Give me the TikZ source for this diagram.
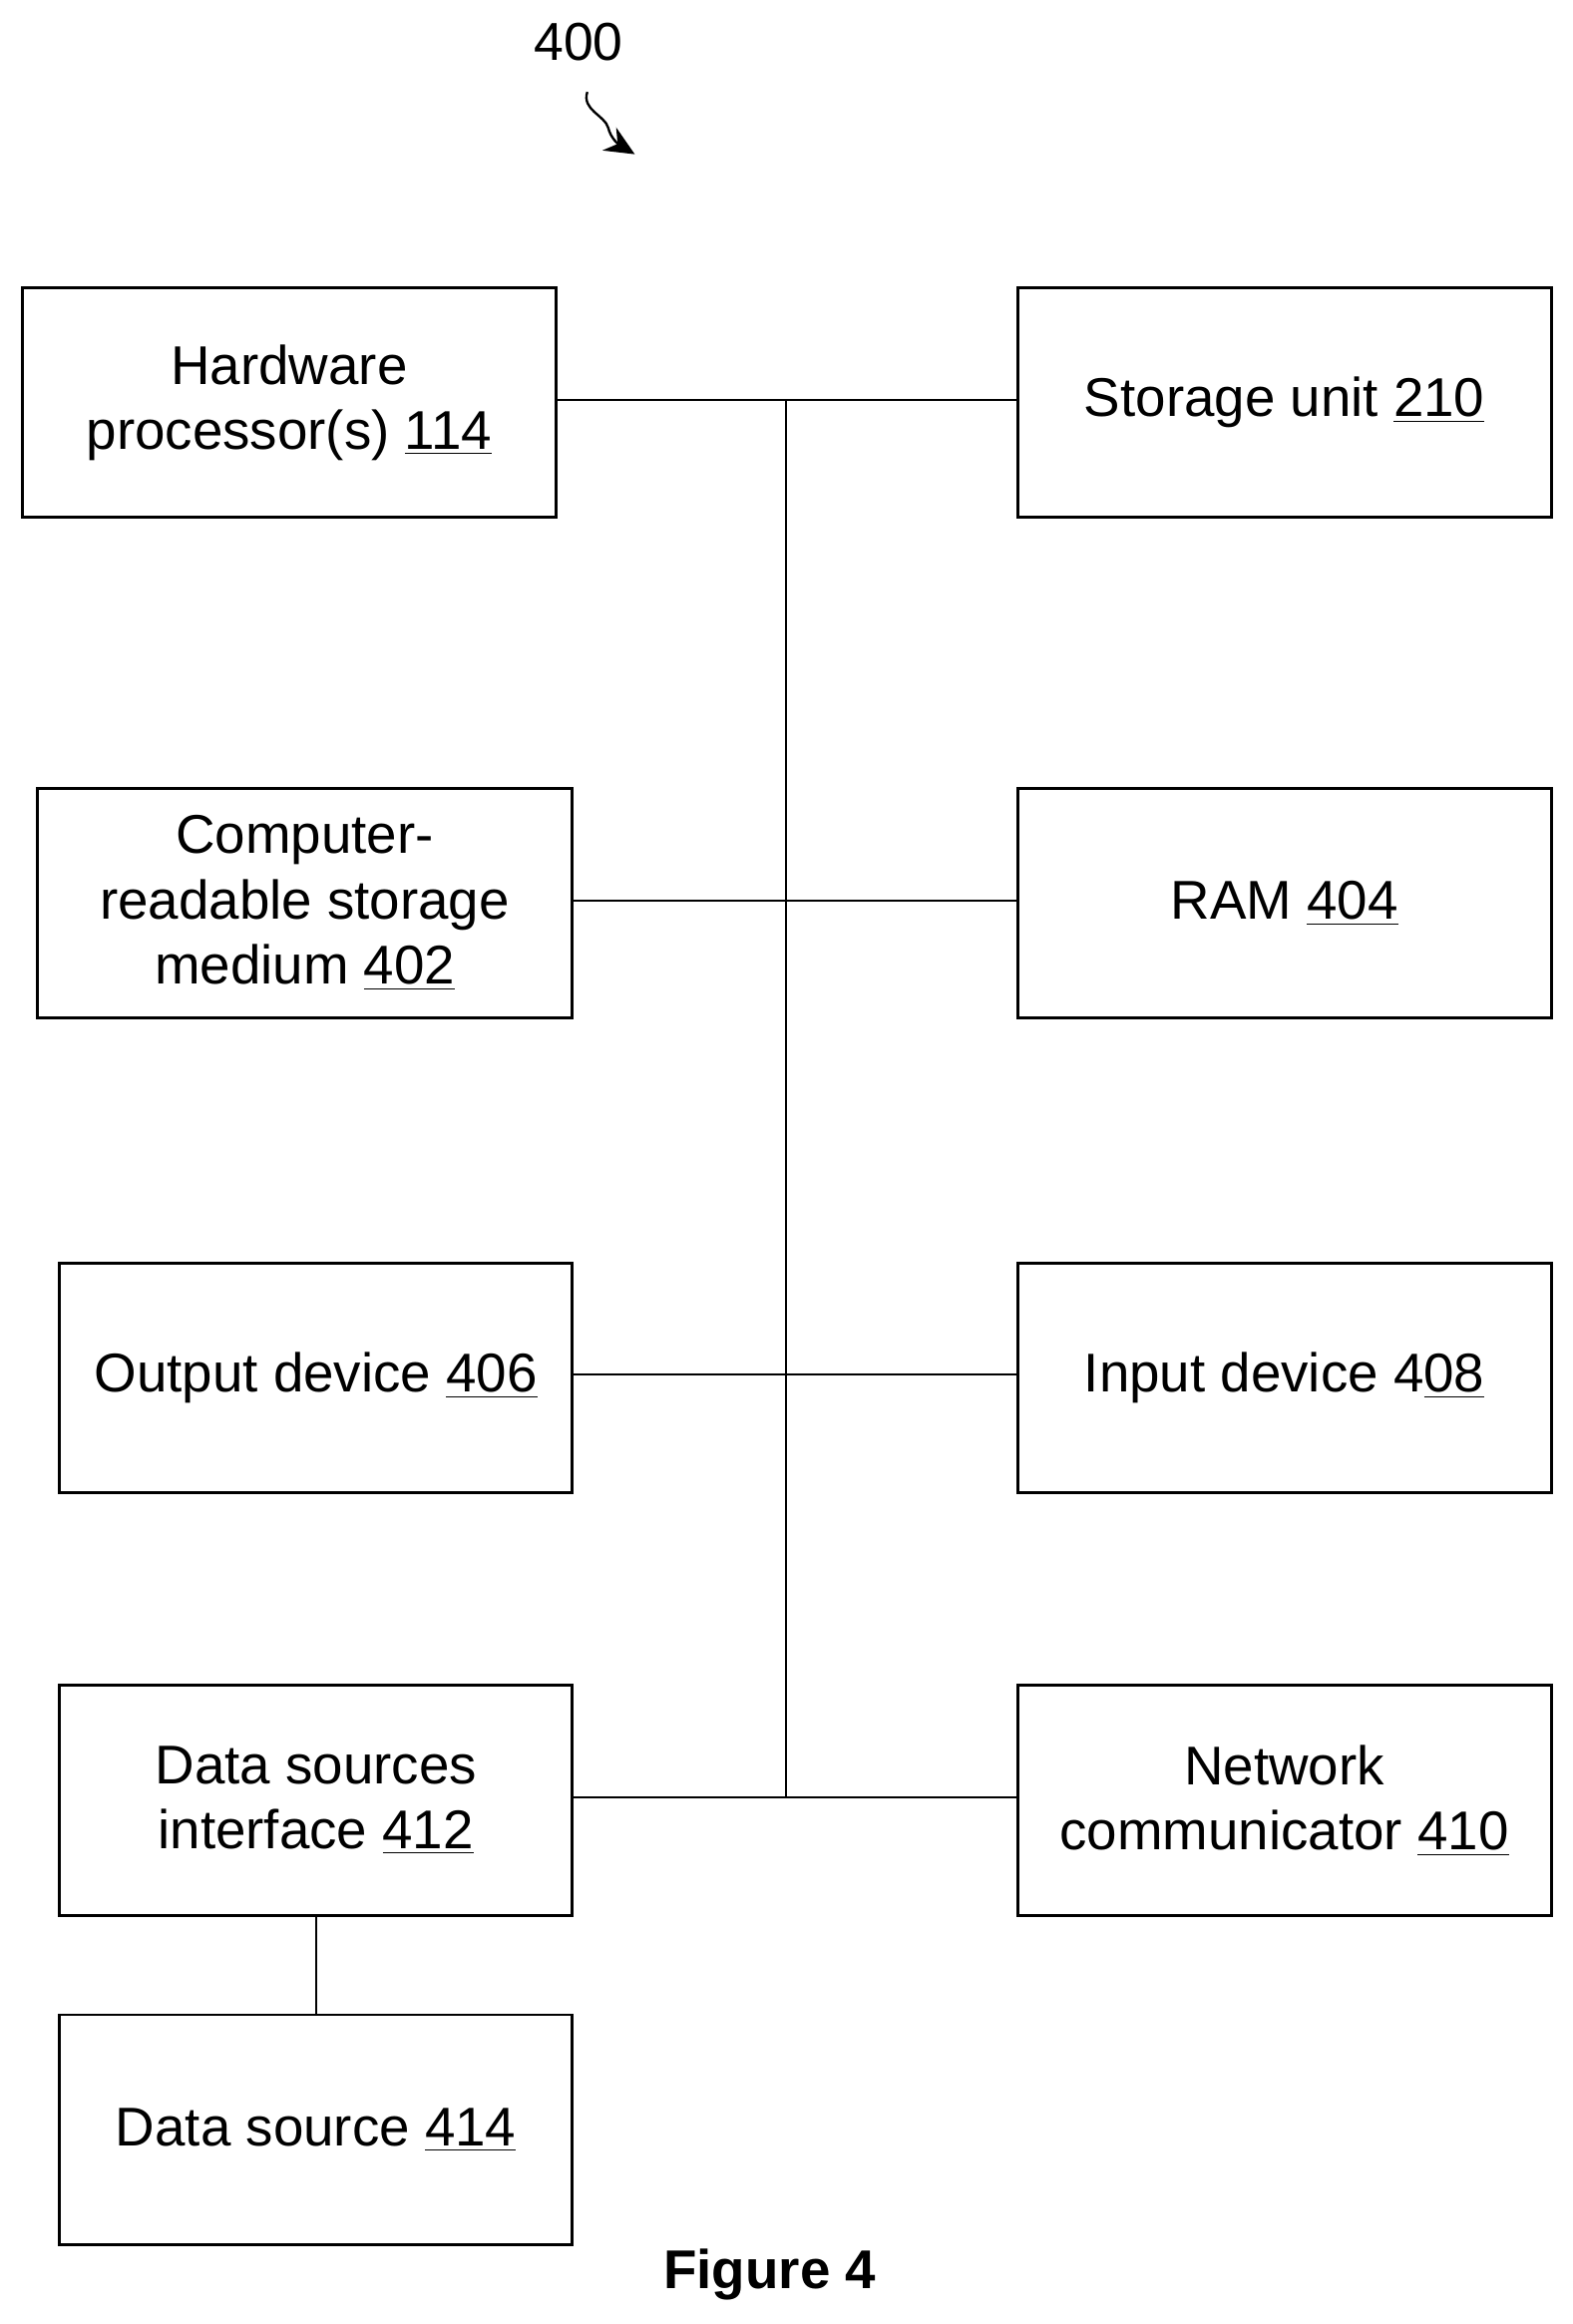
\documentclass[tikz,border=0pt]{standalone}
\usepackage{fontspec}
\setmainfont{Liberation Sans}
\usetikzlibrary{arrows.meta}
\begin{document}
\begin{tikzpicture}[x=0.5pt,y=-0.5pt,
  box/.style={draw,line width=1pt,minimum width=180pt,minimum height=77.5pt,align=center,font=\fontsize{18.4}{22}\selectfont,inner sep=0pt},
  wire/.style={line width=0.7pt}]
\useasboundingbox (0,0) rectangle (1060,1567);
\node (n400) at (390,28) {\fontsize{18}{20}\selectfont 400};
\coordinate (as) at (396,62);
\coordinate (ae) at (428,104);
\draw[line width=0.8pt,-{Stealth[length=10pt,width=9pt]}] (as) .. controls (392,74) and (408,78) .. (410,86) .. controls (412,94) and (418,98) .. (ae);
\node[box] (hw) at (195,271.5) {Hardware\\processor(s) \underline{114}};
\node[box] (su) at (866,271.5) {Storage unit \underline{210}};
\node[box,minimum width=180.5pt] (cr) at (205.5,609) {Computer-\\readable storage\\medium \underline{402}};
\node[box] (ram) at (866,609) {RAM \underline{404}};
\node[box,minimum width=173pt] (od) at (213,929) {Output device \underline{406}};
\node[box] (id) at (866,929) {Input device 4\underline{08}};
\node[box,minimum width=173pt] (dsi) at (213,1214) {Data sources\\interface \underline{412}};
\node[box] (nc) at (866,1214) {Network\\communicator \underline{410}};
\node[box,minimum width=173pt] (ds) at (213,1436) {Data source \underline{414}};
\node (fig) at (519,1534) {\fontsize{18.4}{20}\selectfont\bfseries Figure 4};
\coordinate (j1) at (530,269.5);
\coordinate (j4) at (530,1212);
\draw[wire] (195,269.5) ++(180,0) coordinate (a1) -- (686,269.5) coordinate (b1);
\draw[wire] (cr.east |- 0,607) -- (ram.west |- 0,607);
\draw[wire] (od.east |- 0,927) -- (id.west |- 0,927);
\draw[wire] (dsi.east |- 0,1212) -- (nc.west |- 0,1212);
\draw[wire] (j1) -- (j4);
\draw[wire] (dsi.south) -- (ds.north);
\end{tikzpicture}
\end{document}
